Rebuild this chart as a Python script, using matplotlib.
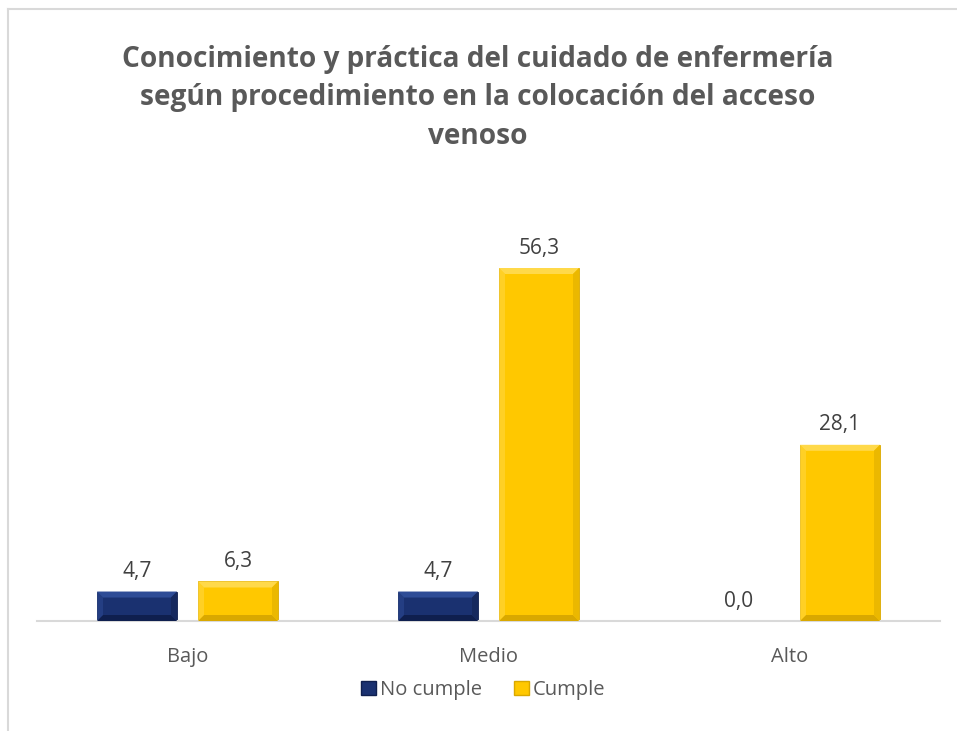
import matplotlib
matplotlib.use("Agg")
import matplotlib.pyplot as plt
from matplotlib.patches import Polygon
from matplotlib.lines import Line2D
import numpy as np

categories = ["Bajo", "Medio", "Alto"]
series_names = ["No cumple", "Cumple"]
no_cumple = [4.7, 4.7, 0.0]
cumple = [6.3, 56.3, 28.1]
title = "Conocimiento y práctica del cuidado de enfermería\nsegún procedimiento en la colocación del acceso\nvenoso"

plt.rcParams['font.family'] = ['Open Sans', 'DejaVu Sans']

W, H = 957, 731
fig = plt.figure(figsize=(W / 100, H / 100), dpi=100)
fig.patch.set_facecolor("white")

# outer chart border (light gray, open to the right/bottom as in the crop)
fig.add_artist(Line2D([8 / W, 8 / W], [0, 1 - 9 / H], transform=fig.transFigure,
                      color="#D9D9D9", lw=1.5))
fig.add_artist(Line2D([8 / W, 1], [1 - 9 / H, 1 - 9 / H], transform=fig.transFigure,
                      color="#D9D9D9", lw=1.5))

ax_left, ax_right = 37 / W, 940 / W
ax_bottom = (H - 621) / H
ymax = 60
px_per_unit = 6.27
ax_h = ymax * px_per_unit / H
ax = fig.add_axes([ax_left, ax_bottom, ax_right - ax_left, ax_h])

x = np.arange(len(categories))
bw = 80 / 301
off = 50.5 / 301
colors = {"No cumple": ("#1A3170", "#2E4C96", "#0F1F4E", "#16295E"),
          "Cumple": ("#FFC800", "#FFD94A", "#D9A800", "#EBB800")}

def bevel(bar, cols):
    base, light, dark, mid = cols
    x0, y0 = bar.get_x(), bar.get_y()
    w, h = bar.get_width(), bar.get_height()
    if h <= 0:
        return
    bx = 6 / 301
    by = min(6 / px_per_unit, h / 2.5)
    x1, y1 = x0 + w, y0 + h
    ax.add_patch(Polygon([(x0, y1), (x1, y1), (x1 - bx, y1 - by), (x0 + bx, y1 - by)],
                         closed=True, facecolor=light, edgecolor="none", zorder=3))
    ax.add_patch(Polygon([(x0, y0), (x1, y0), (x1 - bx, y0 + by), (x0 + bx, y0 + by)],
                         closed=True, facecolor=dark, edgecolor="none", zorder=3))
    ax.add_patch(Polygon([(x0, y0), (x0 + bx, y0 + by), (x0 + bx, y1 - by), (x0, y1)],
                         closed=True, facecolor=light, alpha=0.5, edgecolor="none", zorder=3))
    ax.add_patch(Polygon([(x1, y0), (x1 - bx, y0 + by), (x1 - bx, y1 - by), (x1, y1)],
                         closed=True, facecolor=mid, edgecolor="none", zorder=3))

for vals, name, sign in [(no_cumple, "No cumple", -1), (cumple, "Cumple", 1)]:
    cols = colors[name]
    bars = ax.bar(x + sign * off, vals, bw, color=cols[0], edgecolor=cols[2],
                  linewidth=0.6, zorder=2, label=name)
    for b, v in zip(bars, vals):
        bevel(b, cols)
        ax.text(b.get_x() + b.get_width() / 2, v + 1.5,
                f"{v:.1f}".replace(".", ","), ha="center", va="bottom",
                fontsize=15, color="#404040")

ax.set_xlim(-0.5, 2.5)
ax.set_ylim(0, ymax)
for s in ["top", "right", "left"]:
    ax.spines[s].set_visible(False)
ax.spines["bottom"].set_color("#D9D9D9")
ax.spines["bottom"].set_linewidth(1.5)
ax.set_yticks([])
ax.set_xticks(x)
ax.set_xticklabels(categories, fontsize=14.5, color="#595959")
ax.tick_params(axis="x", length=0, pad=19)

fig.text(478 / W, 1 - 98 / H, title, ha="center", va="center", fontsize=20.2,
         fontweight="bold", color="#595959", linespacing=1.45)

handles = [plt.Rectangle((0, 0), 1, 1, facecolor=colors[n][0], edgecolor=colors[n][2])
           for n in series_names]
fig.legend(handles, series_names, loc="center", bbox_to_anchor=(483 / W, 1 - 690 / H),
           ncol=2, frameon=False, fontsize=14.5, handlelength=0.75, handleheight=0.75,
           handletextpad=0.2, columnspacing=1.6, labelcolor="#595959")

fig.savefig("out.png", dpi=100, facecolor="white")
